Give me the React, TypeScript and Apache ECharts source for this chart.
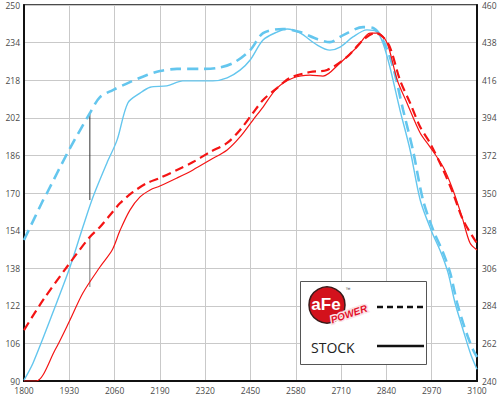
import React, { useEffect, useRef } from "react";
import * as echarts from "echarts";

// RPM axis and value axes
const rpmMin = 1800;
const rpmMax = 3100;
const rpmStep = 130;
const hpMin = 90;
const hpMax = 250;
const hpStep = 16;
const tqMin = 240;
const tqMax = 460;
const tqStep = 22;

// aFe POWER horsepower (dashed blue, left axis)
const afeHpRpm = [1800, 1855, 1866, 1926, 1989, 2018, 2055, 2104, 2153, 2190, 2239, 2305, 2354, 2400, 2449, 2486, 2543, 2592, 2641, 2678, 2716, 2773, 2802, 2830, 2859, 2888, 2916, 2945, 2974, 3003, 3023, 3043, 3060, 3074, 3089, 3100];
const afeHp = [150, 167, 170, 187.4, 204, 210.8, 213.8, 217.2, 220.2, 221.9, 222.8, 222.8, 223.2, 225.3, 230.8, 238, 239.8, 238.5, 235.5, 234.2, 237.2, 240.6, 240.2, 235.1, 223.6, 205.3, 188.3, 167, 154.3, 144.5, 136, 123.2, 114.7, 108.7, 103.2, 100.2];

// Stock horsepower (solid blue, left axis)
const stockHpRpm = [1800, 1826, 1889, 1932, 1969, 1998, 2038, 2067, 2098, 2133, 2162, 2210, 2256, 2342, 2383, 2420, 2449, 2486, 2526, 2555, 2592, 2641, 2678, 2707, 2744, 2784, 2813, 2830, 2850, 2879, 2908, 2937, 2968, 2997, 3017, 3037, 3054, 3069, 3083, 3100];
const stockHp = [90.4, 97.7, 121.5, 138.5, 155.5, 168.3, 182.8, 192.5, 208.3, 212.5, 215, 215.6, 217.7, 217.7, 219, 222.3, 226.6, 235.1, 238.5, 239.8, 238.1, 233, 230.8, 232.1, 236.4, 239.4, 238.5, 233.8, 223.6, 205.3, 188.3, 167, 154.3, 144.5, 136, 123.2, 114.7, 107.4, 101, 95];

// aFe POWER torque (dashed red, right axis)
const afeTqRpm = [1800, 1855, 1923, 1989, 2018, 2047, 2076, 2113, 2153, 2190, 2239, 2285, 2334, 2383, 2420, 2457, 2486, 2526, 2563, 2621, 2670, 2727, 2773, 2807, 2830, 2850, 2879, 2908, 2937, 2965, 3003, 3031, 3060, 3100];
const afeTq = [269.8, 287.4, 306.7, 324.3, 330.1, 337.1, 344.1, 350.6, 355.8, 358.8, 363.5, 368.1, 374, 379.3, 386.9, 396.8, 404.4, 411.4, 417.3, 420.8, 422, 429.6, 439.5, 443.6, 441.3, 435.4, 416.1, 402.7, 388.6, 379.3, 363.5, 350, 334.2, 320.5];

// Stock torque (solid red, right axis)
const stockTqRpm = [1800, 1835, 1889, 1932, 1969, 2018, 2053, 2076, 2104, 2133, 2162, 2190, 2239, 2285, 2334, 2383, 2420, 2457, 2486, 2526, 2572, 2621, 2658, 2707, 2756, 2793, 2816, 2842, 2871, 2899, 2937, 2965, 3003, 3031, 3057, 3080, 3100];
const stockTq = [240, 240, 258.1, 275.7, 291.5, 306.7, 316.6, 328.3, 340, 347.7, 351.8, 354.1, 358.8, 363.5, 369.3, 375.2, 382.8, 392.7, 400.3, 411.4, 417.3, 419, 418.4, 426.1, 435.4, 443.6, 443.6, 437.8, 416.1, 402.7, 385.1, 377, 365.2, 351.8, 336, 320.7, 316.6];

// Gain markers
const gainRpm = 1989;
const hpGain = [204, 167];
const tqGain = [324, 295];

const zip = (xs: number[], ys: number[]) => xs.map((x, i) => [x, ys[i]]);

const BLUE = "#64c6ee";
const RED = "#f41414";
const FONT = "'Open Sans', 'DejaVu Sans', sans-serif";

export default function App() {
  const ref = useRef<HTMLDivElement>(null);
  useEffect(() => {
    document.body.style.margin = "0";
    const chart = echarts.init(ref.current!, undefined, { renderer: "svg" });
    const labelStyle = { fontSize: 8.5, color: "#4a4a4a", fontFamily: FONT, formatter: (v: number) => String(v) };
    chart.setOption({
      animation: false,
      backgroundColor: "#fff",
      grid: { left: 24, right: 23, top: 5, bottom: 16, show: true, borderColor: "#111", borderWidth: 1.5, backgroundColor: "transparent" },
      xAxis: {
        type: "value",
        min: rpmMin,
        max: rpmMax,
        interval: rpmStep,
        axisLine: { show: true, lineStyle: { color: "#111", width: 2 } },
        axisTick: { show: false },
        splitLine: { show: true, lineStyle: { color: "#c9c9c9", width: 1 } },
        axisLabel: { ...labelStyle, margin: 5 },
      },
      yAxis: [
        {
          type: "value",
          position: "left",
          min: hpMin,
          max: hpMax,
          interval: hpStep,
          axisLine: { show: true, lineStyle: { color: "#111", width: 2 } },
          axisTick: { show: false },
          splitLine: { show: true, lineStyle: { color: "#c9c9c9", width: 1 } },
          axisLabel: { ...labelStyle, margin: 4 },
        },
        {
          type: "value",
          position: "right",
          min: tqMin,
          max: tqMax,
          interval: tqStep,
          axisLine: { show: true, lineStyle: { color: "#111", width: 2 } },
          axisTick: { show: false },
          splitLine: { show: false },
          axisLabel: { ...labelStyle, margin: 5 },
        },
      ],
      series: [
        {
          name: "Stock HP",
          type: "line",
          yAxisIndex: 0,
          data: zip(stockHpRpm, stockHp),
          smooth: 0.3,
          showSymbol: false,
          lineStyle: { color: BLUE, width: 1.4 },
          z: 3,
        },
        {
          name: "aFe HP",
          type: "line",
          yAxisIndex: 0,
          data: zip(afeHpRpm, afeHp),
          smooth: 0.3,
          showSymbol: false,
          lineStyle: { color: BLUE, width: 2.6, type: [11, 6] },
          z: 3,
        },
        {
          name: "Stock TQ",
          type: "line",
          yAxisIndex: 1,
          data: zip(stockTqRpm, stockTq),
          smooth: 0.3,
          showSymbol: false,
          lineStyle: { color: RED, width: 1.2 },
          z: 4,
        },
        {
          name: "aFe TQ",
          type: "line",
          yAxisIndex: 1,
          data: zip(afeTqRpm, afeTq),
          smooth: 0.3,
          showSymbol: false,
          lineStyle: { color: RED, width: 2.2, type: [9, 5] },
          z: 4,
        },
        {
          name: "HP gain",
          type: "line",
          yAxisIndex: 0,
          data: hpGain.map((v) => [gainRpm, v]),
          showSymbol: false,
          lineStyle: { color: "#333", width: 1 },
          z: 2,
        },
        {
          name: "TQ gain",
          type: "line",
          yAxisIndex: 1,
          data: tqGain.map((v) => [gainRpm, v]),
          showSymbol: false,
          lineStyle: { color: "#777", width: 1 },
          z: 2,
        },
      ],
      graphic: [
        {
          type: "rect",
          z: 100,
          shape: { x: 300.5, y: 281.5, width: 126, height: 83 },
          style: { fill: "#fff", stroke: "#555", lineWidth: 1 },
        },
        {
          type: "line",
          z: 101,
          shape: { x1: 377, y1: 307, x2: 424, y2: 307 },
          style: { stroke: "#111", lineWidth: 2.5, lineDash: [6, 4] },
        },
        {
          type: "line",
          z: 101,
          shape: { x1: 377, y1: 346, x2: 424, y2: 346 },
          style: { stroke: "#111", lineWidth: 2.5 },
        },
        {
          type: "text",
          z: 101,
          x: 311,
          y: 347,
          style: { text: "STOCK", fontSize: 14, fontFamily: FONT, fill: "#222", verticalAlign: "middle", align: "left" },
        },
        {
          type: "circle",
          z: 101,
          shape: { cx: 327, cy: 305, r: 18 },
          style: { fill: "#d3121c", stroke: "#3a1a1a", lineWidth: 1.5 },
        },
        {
          type: "text",
          z: 102,
          x: 326,
          y: 304,
          style: { text: "aFe", fontSize: 17, fontWeight: "bold", fontFamily: "'Liberation Sans', Arial, sans-serif", fill: "#fff", align: "center", verticalAlign: "middle" },
        },
        {
          type: "text",
          z: 102,
          x: 348,
          y: 289,
          style: { text: "™", fontSize: 5, fontFamily: "'Liberation Sans', Arial, sans-serif", fill: "#333", align: "center", verticalAlign: "middle" },
        },
        {
          type: "text",
          z: 103,
          x: 349,
          y: 314,
          rotation: 0.33,
          style: { text: "POWER", fontSize: 10, fontWeight: "bold", fontStyle: "italic", fontFamily: "'Liberation Sans', Arial, sans-serif", fill: "#e3102a", stroke: "#fbe3e6", lineWidth: 3, align: "center", verticalAlign: "middle" },
        },
      ],
    });
    return () => chart.dispose();
  }, []);
  return <div ref={ref} style={{ width: 500, height: 397 }} />;
}
